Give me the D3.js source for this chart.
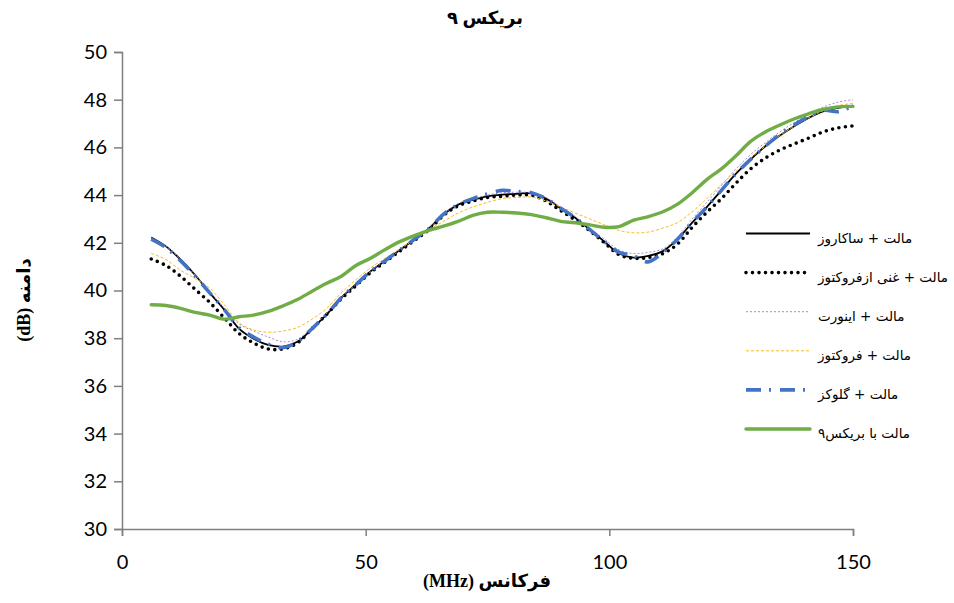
<!DOCTYPE html>
<html>
<head>
<meta charset="utf-8">
<script src="https://cdn.jsdelivr.net/npm/d3@7"></script>
<style>
  html, body { margin: 0; padding: 0; background: #fff; }
  svg { display: block; }
</style>
</head>
<body>
<svg id="chart" width="954" height="603"></svg>
<script>
// Frequency samples (MHz)
const freq = [6, 9, 12, 15, 18, 21, 24, 27, 30, 33, 36, 39, 42, 45, 48, 51, 54, 57, 60, 63,
  66, 69, 72, 75, 78, 81, 84, 87, 90, 93, 96, 99, 102, 105, 108, 111, 114, 117, 120, 123,
  126, 129, 132, 135, 138, 141, 144, 147, 150];

// Amplitude (dB) for each sample
const sucrose = [42.22, 41.85, 41.3, 40.65, 39.9, 39.2, 38.4, 37.98, 37.72, 37.65, 37.85, 38.4, 39.0, 39.7, 40.25, 40.8, 41.25, 41.7, 42.15, 42.6,
  43.2, 43.6, 43.8, 43.95, 44.02, 44.05, 44.08, 43.85, 43.45, 43.05, 42.55, 42.05, 41.55, 41.38, 41.45, 41.65, 42.15, 42.85, 43.5, 44.2,
  44.9, 45.5, 46.05, 46.5, 46.9, 47.25, 47.52, 47.66, 47.75];
const richFructose = [41.32, 41.05, 40.6, 40.05, 39.5, 38.85, 38.2, 37.8, 37.55, 37.55, 37.8, 38.4, 39.0, 39.65, 40.2, 40.75, 41.2, 41.65, 42.1, 42.55,
  43.15, 43.55, 43.75, 43.9, 43.95, 44.0, 44.0, 43.75, 43.35, 42.95, 42.5, 42.0, 41.5, 41.35, 41.38, 41.55, 41.95, 42.65, 43.28, 43.85,
  44.5, 45.1, 45.55, 45.89, 46.15, 46.4, 46.66, 46.82, 46.9];
const invert = [42.2, 41.85, 41.3, 40.65, 39.95, 39.25, 38.6, 38.3, 38.05, 37.85, 37.95, 38.45, 39.05, 39.7, 40.25, 40.8, 41.25, 41.7, 42.15, 42.6,
  43.2, 43.65, 43.85, 44.0, 44.1, 44.12, 44.1, 43.9, 43.5, 43.1, 42.6, 42.15, 41.7, 41.55, 41.6, 41.75, 42.25, 43.0, 43.7, 44.4,
  45.1, 45.7, 46.2, 46.65, 47.05, 47.4, 47.7, 47.9, 48.0];
const fructose = [41.56, 41.3, 40.85, 40.5, 40.1, 39.4, 38.65, 38.35, 38.25, 38.3, 38.45, 38.8, 39.25, 39.9, 40.45, 40.95, 41.35, 41.75, 42.15, 42.55,
  42.9, 43.25, 43.5, 43.7, 43.85, 43.9, 43.92, 43.75, 43.5, 43.25, 43.0, 42.75, 42.52, 42.42, 42.45, 42.62, 42.85, 43.3, 43.85, 44.45,
  45.0, 45.55, 46.05, 46.5, 46.9, 47.25, 47.55, 47.75, 47.85];
const glucose = [42.15, 41.8, 41.25, 40.6, 39.9, 39.2, 38.45, 38.05, 37.75, 37.6, 37.85, 38.4, 39.0, 39.7, 40.25, 40.8, 41.25, 41.7, 42.15, 42.6,
  43.2, 43.6, 43.85, 44.05, 44.2, 44.15, 44.1, 43.85, 43.45, 43.05, 42.55, 42.05, 41.6, 41.45, 41.2, 41.6, 42.15, 42.85, 43.5, 44.2,
  44.9, 45.5, 46.05, 46.55, 46.95, 47.3, 47.55, 47.5, 47.75];
const brix9 = [39.4, 39.37, 39.25, 39.08, 38.97, 38.8, 38.9, 38.97, 39.12, 39.35, 39.62, 39.97, 40.3, 40.6, 41.05, 41.35, 41.72, 42.05, 42.3, 42.52,
  42.7, 42.9, 43.15, 43.28, 43.28, 43.25, 43.18, 43.05, 42.9, 42.84, 42.75, 42.65, 42.68, 42.95, 43.1, 43.3, 43.62, 44.1, 44.65, 45.1,
  45.65, 46.25, 46.65, 46.94, 47.2, 47.42, 47.6, 47.7, 47.72];

const seriesNames = ["مالت + ساکاروز", "مالت + غنی ازفروکتوز", "مالت + اینورت", "مالت + فروکتوز", "مالت + گلوکز", "مالت با بریکس۹"];
const xTicks = [0, 50, 100, 150];
const yTicks = [30, 32, 34, 36, 38, 40, 42, 44, 46, 48, 50];

const titleText = "بریکس ۹";
const xTitle = "فرکانس (MHz)";
const yTitle = "دامنه (dB)";

// Line styles per series
const styles = [
  { color: "#000000", width: 1.8, dash: null, cap: "butt" },
  { color: "#000000", width: 3.6, dash: "0 6.5", cap: "round" },
  { color: "#a58bd6", width: 1, dash: "2 2", cap: "butt" },
  { color: "#f7bd1e", width: 1, dash: "3 2", cap: "butt" },
  { color: "#4472c4", width: 3.6, dash: "15 8 2 9", cap: "butt" },
  { color: "#70ad47", width: 3.4, dash: null, cap: "round" }
];

const allSeries = [sucrose, richFructose, invert, fructose, glucose, brix9];

const svg = d3.select("#chart");
const plotLeft = 122, plotRight = 853, plotTop = 52, plotBottom = 529;

const x = d3.scaleLinear().domain([0, 150]).range([plotLeft, plotRight]);
const y = d3.scaleLinear().domain([30, 50]).range([plotBottom, plotTop]);

const axisColor = "#7f7f7f";
const tickFont = "Lato, 'Open Sans', 'Liberation Sans', sans-serif";

// Y axis
const gy = svg.append("g")
  .attr("transform", `translate(${plotLeft},0)`)
  .call(d3.axisLeft(y).tickValues(yTicks).tickSize(8).tickPadding(7).tickFormat(d3.format("d")));
gy.select(".domain").attr("stroke", axisColor).attr("stroke-width", 1.5);
gy.selectAll(".tick line").attr("stroke", axisColor).attr("stroke-width", 1.5);
gy.selectAll(".tick text").attr("fill", "#000").style("font-family", tickFont).style("font-size", "20px");

// X axis
const gx = svg.append("g")
  .attr("transform", `translate(0,${plotBottom})`)
  .call(d3.axisBottom(x).tickValues(xTicks).tickSize(7).tickPadding(19).tickFormat(d3.format("d")));
gx.select(".domain").attr("stroke", axisColor).attr("stroke-width", 1.5);
gx.selectAll(".tick line").attr("stroke", axisColor).attr("stroke-width", 1.5);
gx.selectAll(".tick text").attr("fill", "#000").style("font-family", tickFont).style("font-size", "20px");

// Series lines
const line = d3.line()
  .x((d, i) => x(freq[i]))
  .y(d => y(d))
  .curve(d3.curveCatmullRom.alpha(0.5));

allSeries.forEach((vals, k) => {
  const s = styles[k];
  svg.append("path")
    .datum(vals)
    .attr("d", line)
    .attr("fill", "none")
    .attr("stroke", s.color)
    .attr("stroke-width", s.width)
    .attr("stroke-linecap", s.cap)
    .attr("stroke-linejoin", "round")
    .attr("stroke-dasharray", s.dash);
});

// Legend
const legendX0 = 746, legendX1 = 810, legendY0 = 233.5, legendStep = 39.1;
seriesNames.forEach((name, k) => {
  const s = styles[k];
  const ly = legendY0 + k * legendStep;
  svg.append("line")
    .attr("x1", legendX0).attr("x2", legendX1)
    .attr("y1", ly).attr("y2", ly)
    .attr("stroke", s.color)
    .attr("stroke-width", s.width)
    .attr("stroke-linecap", s.cap)
    .attr("stroke-dasharray", s.dash);
  svg.append("text")
    .attr("x", 818).attr("y", ly + 5)
    .attr("dominant-baseline", "middle")
    .style("font-family", "'DejaVu Sans', sans-serif")
    .style("font-size", "13.5px")
    .attr("fill", "#000")
    .text(name);
});

// Titles
svg.append("text")
  .attr("x", 485).attr("y", 20)
  .attr("text-anchor", "middle")
  .attr("dominant-baseline", "middle")
  .style("font-family", "'Liberation Serif', 'DejaVu Sans', serif")
  .style("font-weight", "bold")
  .style("font-size", "18px")
  .text(titleText);

svg.append("text")
  .attr("x", 487).attr("y", 583)
  .attr("text-anchor", "middle")
  .attr("dominant-baseline", "middle")
  .attr("direction", "rtl")
  .style("font-family", "'Liberation Serif', 'DejaVu Sans', serif")
  .style("font-weight", "bold")
  .style("font-size", "18px")
  .text(xTitle);

svg.append("text")
  .attr("transform", "translate(26,300) rotate(-90)")
  .attr("text-anchor", "middle")
  .attr("dominant-baseline", "middle")
  .attr("direction", "rtl")
  .style("font-family", "'Liberation Serif', 'DejaVu Sans', serif")
  .style("font-weight", "bold")
  .style("font-size", "18px")
  .text(yTitle);
</script>
</body>
</html>
